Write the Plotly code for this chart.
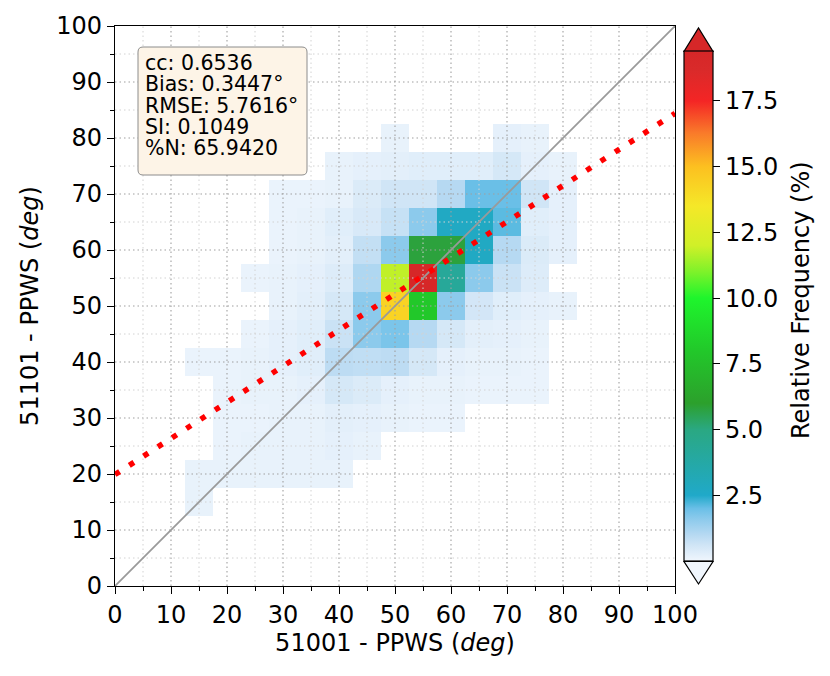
import plotly.graph_objects as go

# bin centres (deg), 5 deg bins
x_bins = [15, 20, 25, 30, 35, 40, 45, 50, 55, 60, 65, 70, 75, 80]
y_bins = [15, 20, 25, 30, 35, 40, 45, 50, 55, 60, 65, 70, 75, 80]

# relative frequency (%) per row (y), columns follow x_bins; None = empty bin
N = None
row_15 = [0.15, N, N, N, N, N, N, N, N, N, N, N, N, N]
row_20 = [0.15, 0.15, 0.15, 0.15, 0.15, 0.15, N, N, N, N, N, N, N, N]
row_25 = [N, 0.12, 0.15, 0.15, 0.15, 0.2, 0.15, N, N, N, N, N, N, N]
row_30 = [N, 0.12, 0.12, 0.15, 0.15, 0.25, 0.2, 0.15, 0.12, 0.12, N, N, N, N]
row_35 = [N, 0.12, 0.15, 0.15, 0.2, 0.5, 0.4, 0.2, 0.15, 0.15, 0.12, 0.12, 0.12, N]
row_40 = [0.12, 0.12, 0.15, 0.2, 0.3, 0.9, 0.85, 0.9, 0.5, 0.2, 0.15, 0.15, 0.12, N]
row_45 = [N, N, 0.12, 0.2, 0.3, 0.7, 1.6, 1.8, 1.0, 0.5, 0.25, 0.2, 0.15, N]
row_50 = [N, N, N, 0.15, 0.25, 0.5, 1.6, 14.3, 8.0, 1.6, 0.55, 0.3, 0.2, 0.15]
row_55 = [N, N, 0.12, 0.15, 0.2, 0.35, 1.1, 11.8, 19.4, 4.2, 1.6, 0.7, 0.35, N]
row_60 = [N, N, N, 0.12, 0.15, 0.25, 0.8, 1.6, 5.8, 5.8, 2.7, 1.0, 0.4, 0.2]
row_65 = [N, N, N, 0.12, 0.15, 0.3, 0.45, 0.75, 1.6, 2.7, 2.7, 2.1, 0.3, 0.2]
row_70 = [N, N, N, 0.12, 0.12, 0.15, 0.4, 0.6, 0.6, 1.0, 2.0, 2.0, 0.6, 0.2]
row_75 = [N, N, N, N, N, 0.15, 0.2, 0.25, 0.3, 0.3, 0.3, 0.5, 0.2, 0.15]
row_80 = [N, N, N, N, N, N, N, 0.15, N, N, N, 0.2, 0.15, N]

freq = [row_15, row_20, row_25, row_30, row_35, row_40, row_45,
        row_50, row_55, row_60, row_65, row_70, row_75, row_80]

# regression line and 1:1 line
fit_x = [0, 100]
fit_y = [19.9, 84.4]
one_x = [0, 100]
one_y = [0, 100]

stats = ["cc: 0.6536", "Bias: 0.3447°", "RMSE: 5.7616°", "SI: 0.1049", "%N: 65.9420"]
cbar_ticks = [2.5, 5.0, 7.5, 10.0, 12.5, 15.0, 17.5]

zmax = max(v for r in freq for v in r if v is not None)

# colour map (value in %, colour)
cmap = [(0.0, "#f0f6fd"), (0.6, "#d0e5f6"), (1.0, "#b6d9f2"), (1.6, "#8ccaec"),
        (2.0, "#6abfe7"), (2.5, "#20a9c9"), (5.0, "#2aa882"), (6.0, "#2ca02c"),
        (8.0, "#22c82a"), (10.0, "#1ef52c"), (11.0, "#7ef22a"), (12.0, "#d0f028"),
        (13.5, "#f5e828"), (15.0, "#fcc020"), (16.3, "#f9792a"), (17.5, "#f42525"),
        (18.7, "#d92a2a"), (zmax, "#d62728")]
colorscale = [[v / zmax, c] for v, c in cmap]

FONT = "DejaVu Sans"
W, H = 830, 676
OFF = 7  # page offset of the figure in the browser
L, T = 114 - OFF, 25 - OFF
PW, PH = 560, 560
R, B = W - L - PW, H - T - PH


def px_x(p):
    return (p - OFF - L) / PW


def px_y(p):
    return (T + PH + OFF - p) / PH


fig = go.Figure()

fig.add_trace(go.Heatmap(
    x=x_bins, y=y_bins, z=freq, zmin=0, zmax=zmax,
    colorscale=colorscale, hoverongaps=False,
    colorbar=dict(
        x=px_x(683), xanchor="left", xpad=0, ypad=0,
        thickness=29, lenmode="pixels", len=510, y=0.5, yanchor="middle",
        outlinewidth=1.2, outlinecolor="black",
        tickvals=cbar_ticks, tickformat=".1f", ticks="outside", ticklen=7,
        tickwidth=1.2, tickcolor="black",
        tickfont=dict(family=FONT, size=24, color="black"),
    ),
))

# dotted grid on top of the cells
for step, col, wd in [(10, "#a0a0a0", 1.1), (5, "#d2d2d2", 1.0)]:
    gx, gy = [], []
    for v in range(step, 100, step):
        if step == 5 and v % 10 == 0:
            continue
        gx += [v, v, None, 0, 100, None]
        gy += [0, 100, None, v, v, None]
    fig.add_trace(go.Scatter(x=gx, y=gy, mode="lines", hoverinfo="skip",
                             line=dict(color=col, width=wd, dash="1.5px,3px"),
                             showlegend=False))

fig.add_trace(go.Scatter(x=one_x, y=one_y, mode="lines", showlegend=False,
                         line=dict(color="#9a9a9a", width=1.8)))
fig.add_trace(go.Scatter(x=fit_x, y=fit_y, mode="lines", showlegend=False,
                         line=dict(color="#ff0000", width=5.5, dash="5.5px,11.5px")))

# colourbar extension triangles
bx0, bx1 = px_x(683), px_x(712)
bxm = (bx0 + bx1) / 2
top, bot = px_y(50.5), px_y(560.5)
fig.add_shape(type="path", xref="paper", yref="paper",
              path=f"M {bx0},{top} L {bx1},{top} L {bxm},{px_y(27)} Z",
              fillcolor="#d62728", line=dict(color="black", width=1.2))
fig.add_shape(type="path", xref="paper", yref="paper",
              path=f"M {bx0},{bot} L {bx1},{bot} L {bxm},{px_y(583)} Z",
              fillcolor="#f0f6fd", line=dict(color="black", width=1.2))

# colourbar label
fig.add_annotation(x=px_x(800), y=px_y(299), xref="paper", yref="paper",
                   text="Relative Frequency (%)", textangle=-90, showarrow=False,
                   xanchor="center", yanchor="middle",
                   font=dict(family=FONT, size=24, color="black"))

# stats box with rounded corners
x0, x1, y0, y1 = px_x(137), px_x(306), px_y(174), px_y(46)
rx, ry = 5 / PW, 5 / PH
fig.add_shape(type="path", xref="paper", yref="paper",
              path=(f"M {x0+rx},{y1} L {x1-rx},{y1} Q {x1},{y1} {x1},{y1-ry} "
                    f"L {x1},{y0+ry} Q {x1},{y0} {x1-rx},{y0} L {x0+rx},{y0} "
                    f"Q {x0},{y0} {x0},{y0+ry} L {x0},{y1-ry} Q {x0},{y1} {x0+rx},{y1} Z"),
              fillcolor="#fdf4e7", line=dict(color="#8c8c8c", width=1))
for i, s in enumerate(stats):
    fig.add_annotation(x=px_x(142), y=px_y(62 + 21.25 * i), xref="paper", yref="paper",
                       text=s, showarrow=False, xanchor="left", yanchor="middle",
                       font=dict(family=FONT, size=20.5, color="black"))

axis = dict(range=[0, 100], dtick=10, showgrid=False, zeroline=False,
            showline=True, mirror=True, linecolor="black", linewidth=1.3,
            ticks="outside", ticklen=7, tickwidth=1.2, tickcolor="black",
            automargin=False,
            minor=dict(dtick=5, ticks="outside", ticklen=4, tickwidth=1, tickcolor="black"),
            tickfont=dict(family=FONT, size=24, color="black"))

fig.update_layout(
    width=W, height=H,
    margin=dict(l=L, r=R, t=T, b=B, autoexpand=False),
    plot_bgcolor="white", paper_bgcolor="white",
    xaxis=dict(axis, title=dict(text="51001 - PPWS (<i>deg</i>)", standoff=6,
                                font=dict(family=FONT, size=24, color="black"))),
    yaxis=dict(axis, title=dict(text="51101 - PPWS (<i>deg</i>)", standoff=10,
                                font=dict(family=FONT, size=24, color="black"))),
    showlegend=False,
)

fig.write_html("out.html")
